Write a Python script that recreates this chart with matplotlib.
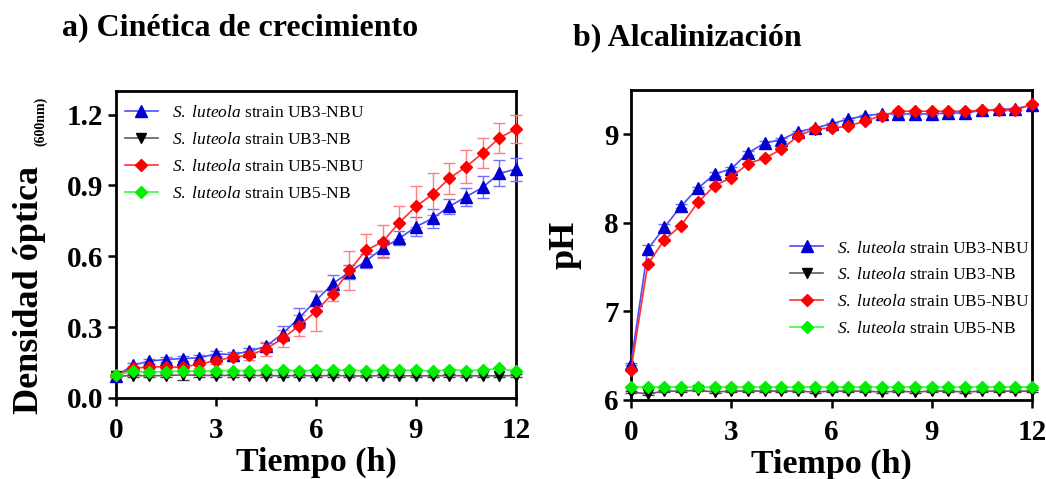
import numpy as np
import matplotlib
matplotlib.use("Agg")
import matplotlib.pyplot as plt

plt.rcParams['font.family'] = ['Liberation Serif', 'DejaVu Serif']
plt.rcParams['mathtext.fontset'] = 'custom'
plt.rcParams['mathtext.rm'] = 'Liberation Serif'
plt.rcParams['mathtext.it'] = 'Liberation Serif:italic'

# Time points (h)
tiempo = np.arange(0, 12.5, 0.5)

# a) optical density (600 nm)
od_ub3_nbu = [0.092, 0.139, 0.156, 0.163, 0.167, 0.170, 0.187, 0.184, 0.198, 0.219,
              0.273, 0.340, 0.413, 0.484, 0.533, 0.580, 0.634, 0.676, 0.725, 0.761,
              0.811, 0.852, 0.892, 0.951, 0.969]
od_ub3_nbu_err = [0.005, 0.01, 0.01, 0.01, 0.01, 0.01, 0.01, 0.01, 0.012, 0.015,
                  0.03, 0.042, 0.04, 0.037, 0.03, 0.03, 0.035, 0.03, 0.04, 0.04,
                  0.03, 0.037, 0.047, 0.055, 0.048]
od_ub3_nb = [0.092, 0.095, 0.094, 0.095, 0.098, 0.096, 0.095, 0.096, 0.095, 0.095,
             0.094, 0.095, 0.094, 0.095, 0.094, 0.093, 0.095, 0.094, 0.094, 0.094,
             0.095, 0.094, 0.094, 0.094, 0.095]
od_ub3_nb_err = [0.004, 0.005, 0.005, 0.005, 0.02, 0.005, 0.005, 0.005, 0.005, 0.005,
                 0.005, 0.005, 0.005, 0.005, 0.005, 0.005, 0.005, 0.005, 0.005, 0.005,
                 0.005, 0.005, 0.005, 0.005, 0.005]
od_ub5_nbu = [0.096, 0.125, 0.132, 0.132, 0.130, 0.144, 0.158, 0.173, 0.181, 0.208,
              0.252, 0.307, 0.368, 0.442, 0.541, 0.625, 0.662, 0.743, 0.811, 0.863,
              0.930, 0.979, 1.037, 1.101, 1.139]
od_ub5_nbu_err = [0.005, 0.01, 0.01, 0.01, 0.01, 0.015, 0.015, 0.015, 0.02, 0.03,
                  0.035, 0.045, 0.086, 0.03, 0.083, 0.07, 0.07, 0.07, 0.088, 0.088,
                  0.065, 0.07, 0.065, 0.065, 0.06]
od_ub5_nb = [0.096, 0.113, 0.110, 0.112, 0.114, 0.114, 0.116, 0.116, 0.116, 0.118,
             0.118, 0.116, 0.118, 0.118, 0.117, 0.116, 0.117, 0.118, 0.117, 0.114,
             0.120, 0.116, 0.118, 0.125, 0.113]

# b) pH
ph_ub3_nbu = [6.41, 7.70, 7.95, 8.19, 8.39, 8.55, 8.61, 8.79, 8.90, 8.94,
              9.03, 9.07, 9.12, 9.17, 9.21, 9.23, 9.23, 9.23, 9.23, 9.24,
              9.24, 9.27, 9.28, 9.29, 9.33]
ph_ub3_nbu_err = [0.01, 0.05, 0.04, 0.02, 0.02, 0.02, 0.02, 0.02, 0.02, 0.02,
                  0.01, 0.01, 0.01, 0.01, 0.01, 0.01, 0.01, 0.01, 0.01, 0.01,
                  0.01, 0.01, 0.01, 0.01, 0.01]
ph_ub3_nb = [6.09, 6.07, 6.10, 6.10, 6.11, 6.09, 6.10, 6.10, 6.10, 6.10,
             6.10, 6.09, 6.10, 6.10, 6.10, 6.09, 6.10, 6.09, 6.10, 6.10,
             6.09, 6.10, 6.10, 6.10, 6.10]
ph_ub5_nbu = [6.34, 7.53, 7.81, 7.97, 8.23, 8.42, 8.51, 8.67, 8.73, 8.83,
              8.98, 9.06, 9.07, 9.09, 9.15, 9.21, 9.26, 9.26, 9.26, 9.26,
              9.26, 9.27, 9.27, 9.27, 9.34]
ph_ub5_nb = [6.15] * 25

etiquetas = ["strain UB3-NBU", "strain UB3-NB", "strain UB5-NBU", "strain UB5-NB"]

estilos = [
    dict(marker='^', color='#4d4dff', mfc='#0000d0', mec='#0000d0', ms=8, ecolor='#7070ff'),
    dict(marker='v', color='#606060', mfc='black', mec='black', ms=7, ecolor='#404040'),
    dict(marker='D', color='#ff3030', mfc='#ff0000', mec='#ff0000', ms=6, ecolor='#ff8080'),
    dict(marker='D', color='#33ff33', mfc='#00ee00', mec='#00ee00', ms=6, ecolor='#33ff33'),
]


def serie(ax, y, err, st, lab):
    st = dict(st)
    ec = st.pop('ecolor')
    cont = ax.errorbar(tiempo, y, yerr=err, lw=1.2, elinewidth=1.0, capsize=4,
                       capthick=1.0, ecolor=ec, clip_on=False, zorder=3, **st)
    linea = cont[0]
    linea.set_label(lab)
    return linea


def estilo_ejes(ax):
    for s in ax.spines.values():
        s.set_linewidth(2.0)
    ax.tick_params(direction='out', length=6, width=1.8, labelsize=21)
    ax.tick_params(axis='x', pad=8)
    ax.tick_params(axis='y', pad=3)
    for t in ax.get_xticklabels() + ax.get_yticklabels():
        t.set_fontweight('bold')


def leyenda(ax, lineas, x, y):
    lg = ax.legend(handles=lineas, loc='upper left', bbox_to_anchor=(x, y),
                   frameon=False, borderaxespad=0, borderpad=0, handlelength=1.9,
                   handletextpad=0.8, labelspacing=0.62, prop={'size': 12.5})
    for txt in lg.get_texts():
        txt.set_text(r"$\it{S.\ luteola}$ " + txt.get_text())
    return lg


fig = plt.figure(figsize=(10.46, 4.79), dpi=100)
ax1 = fig.add_axes([116 / 1046, 81 / 479, 400 / 1046, 307 / 479])
ax2 = fig.add_axes([631 / 1046, 79 / 479, 401 / 1046, 310 / 479])

labs = etiquetas
l1 = [
    serie(ax1, od_ub3_nbu, od_ub3_nbu_err, estilos[0], labs[0]),
    serie(ax1, od_ub3_nb, od_ub3_nb_err, estilos[1], labs[1]),
    serie(ax1, od_ub5_nbu, od_ub5_nbu_err, estilos[2], labs[2]),
    serie(ax1, od_ub5_nb, [0.004] * 25, estilos[3], labs[3]),
]
ax1.set_xlim(0, 12)
ax1.set_ylim(0, 1.30)
ax1.set_xticks([0, 3, 6, 9, 12])
ax1.set_yticks([0.0, 0.3, 0.6, 0.9, 1.2])
ax1.set_yticklabels(['0.0', '0.3', '0.6', '0.9', '1.2'])
estilo_ejes(ax1)
ax1.set_xlabel("Tiempo (h)", fontsize=24.5, fontweight='bold', labelpad=2)
leyenda(ax1, l1, 0.0225, 0.955)

l2 = [
    serie(ax2, ph_ub3_nbu, ph_ub3_nbu_err, estilos[0], labs[0]),
    serie(ax2, ph_ub3_nb, [0.01] * 25, estilos[1], labs[1]),
    serie(ax2, ph_ub5_nbu, [0.01] * 25, estilos[2], labs[2]),
    serie(ax2, ph_ub5_nb, [0.01] * 25, estilos[3], labs[3]),
]
ax2.set_xlim(0, 12)
ax2.set_ylim(6, 9.5)
ax2.set_xticks([0, 3, 6, 9, 12])
ax2.set_yticks([6, 7, 8, 9])
estilo_ejes(ax2)
ax2.set_xlabel("Tiempo (h)", fontsize=24.5, fontweight='bold', labelpad=2)
ax2.set_ylabel("pH", fontsize=26, fontweight='bold', labelpad=16)
leyenda(ax2, l2, 0.397, 0.515)

# titles and y label of panel a
fig.text(62 / 1046, 1 - 28 / 479, "a) Cinética de crecimiento", fontsize=23,
         fontweight='bold', va='center', ha='left')
fig.text(573 / 1046, 1 - 38 / 479, "b) Alcalinización", fontsize=23,
         fontweight='bold', va='center', ha='left')
fig.text(30 / 1046, 1 - 290 / 479, "Densidad óptica", fontsize=26, fontweight='bold',
         rotation=90, va='center', ha='center')
fig.text(41 / 1046, 1 - 121 / 479, "(600nm)", fontsize=10, fontweight='bold',
         rotation=90, va='center', ha='center')

fig.savefig("out.png", dpi=100)
